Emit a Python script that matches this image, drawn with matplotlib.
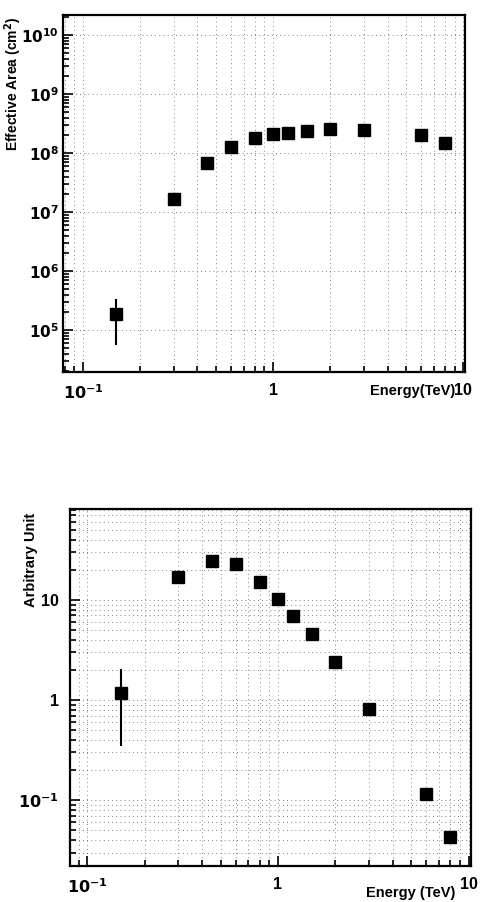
import matplotlib
matplotlib.use('Agg')
import matplotlib.pyplot as plt
from matplotlib.ticker import LogLocator, FixedLocator, NullFormatter

plt.rcParams['font.family'] = ['Liberation Sans', 'DejaVu Sans']
plt.rcParams['font.weight'] = 'bold'
plt.rcParams['mathtext.default'] = 'bf'

energy = [0.15, 0.3, 0.45, 0.6, 0.8, 1.0, 1.2, 1.5, 2.0, 3.0, 6.0, 8.0]

area = [1.9e5, 1.7e7, 6.8e7, 1.26e8, 1.8e8, 2.1e8, 2.2e8, 2.4e8, 2.6e8, 2.5e8, 2.0e8, 1.5e8]
area_lo = [1.35e5, 0, 0, 0, 0, 0, 0, 0, 0, 0, 0, 0]
area_hi = [1.5e5, 0, 0, 0, 0, 0, 0, 0, 0, 0, 0, 0]

flux = [1.17, 17, 24.5, 23, 15, 10.2, 6.9, 4.6, 2.4, 0.81, 0.115, 0.043]
flux_lo = [0.82, 0, 0, 0, 0, 0, 0, 0, 0, 0, 0, 0]
flux_hi = [0.87, 0, 0, 0, 0, 0, 0, 0, 0, 0, 0, 0]

x_ticks = [0.1, 1, 10]
x_ticklabels = [r'$10^{-1}$', '1', '10']
area_ticks = [1e5, 1e6, 1e7, 1e8, 1e9, 1e10]
area_ticklabels = [r'$10^{%d}$' % n for n in range(5, 11)]
flux_ticks = [0.1, 1, 10]
flux_ticklabels = [r'$10^{-1}$', '1', '10']

W, H = 480, 902
fig = plt.figure(figsize=(W / 100, H / 100), dpi=100)
ax1 = fig.add_axes([63 / W, 1 - 372 / H, (465 - 63) / W, (372 - 15) / H])
ax2 = fig.add_axes([70 / W, 1 - 866 / H, (471 - 70) / W, (866 - 509) / H])

dots = dict(color='0.35', linestyle=(0, (1, 4)), linewidth=0.6)

def style(ax):
    ax.set_xscale('log')
    ax.set_yscale('log')
    for s in ax.spines.values():
        s.set_linewidth(1.6)
    ax.tick_params(which='both', direction='in', top=False, right=False,
                   labelsize=11.5, pad=8, width=1.2)
    ax.tick_params(which='major', length=7)
    ax.tick_params(which='minor', length=4)
    ax.xaxis.set_minor_locator(LogLocator(base=10, subs=range(2, 10), numticks=20))
    ax.yaxis.set_minor_locator(LogLocator(base=10, subs=range(2, 10), numticks=20))
    ax.xaxis.set_minor_formatter(NullFormatter())
    ax.yaxis.set_minor_formatter(NullFormatter())
    ax.set_axisbelow(True)

# top panel: effective area
style(ax1)
ax1.tick_params(axis='y', which='major', pad=3, labelsize=11)
ax1.errorbar(energy, area, yerr=[area_lo, area_hi], fmt='s', color='black',
             markersize=8, elinewidth=1.5, capsize=0)
ax1.set_xlim(0.0785, 10.2)
ax1.set_ylim(1.95e4, 2.2e10)
ax1.xaxis.set_major_locator(FixedLocator(x_ticks))
ax1.set_xticklabels(x_ticklabels)
ax1.yaxis.set_major_locator(FixedLocator(area_ticks))
ax1.set_yticklabels(area_ticklabels)
ax1.grid(True, which='major', axis='y', **dots)
ax1.grid(True, which='both', axis='x', **dots)
ax1.set_ylabel(r'Effective Area (cm$^{2}$)', fontsize=10, fontweight='bold')
ax1.yaxis.set_label_coords(-0.125, 0.995)
ax1.yaxis.label.set_horizontalalignment('right')
ax1.yaxis.label.set_verticalalignment('center')
ax1.set_xlabel('Energy(TeV)', fontsize=10.5, fontweight='bold')
ax1.xaxis.set_label_coords(0.975, -0.035)
ax1.xaxis.label.set_horizontalalignment('right')
ax1.xaxis.label.set_verticalalignment('top')

# bottom panel: spectrum
style(ax2)
ax2.errorbar(energy, flux, yerr=[flux_lo, flux_hi], fmt='s', color='black',
             markersize=8, elinewidth=1.5, capsize=0)
ax2.set_xlim(0.081, 10.3)
ax2.set_ylim(0.022, 81)
ax2.xaxis.set_major_locator(FixedLocator(x_ticks))
ax2.set_xticklabels(x_ticklabels)
ax2.yaxis.set_major_locator(FixedLocator(flux_ticks))
ax2.set_yticklabels(flux_ticklabels)
ax2.grid(True, which='both', **dots)
ax2.set_ylabel('Arbitrary Unit', fontsize=10.5, fontweight='bold')
ax2.yaxis.set_label_coords(-0.098, 0.99)
ax2.yaxis.label.set_horizontalalignment('right')
ax2.yaxis.label.set_verticalalignment('center')
ax2.set_xlabel('Energy (TeV)', fontsize=10.5, fontweight='bold')
ax2.xaxis.set_label_coords(0.96, -0.055)
ax2.xaxis.label.set_horizontalalignment('right')
ax2.xaxis.label.set_verticalalignment('top')

fig.savefig('out.png', dpi=100)
